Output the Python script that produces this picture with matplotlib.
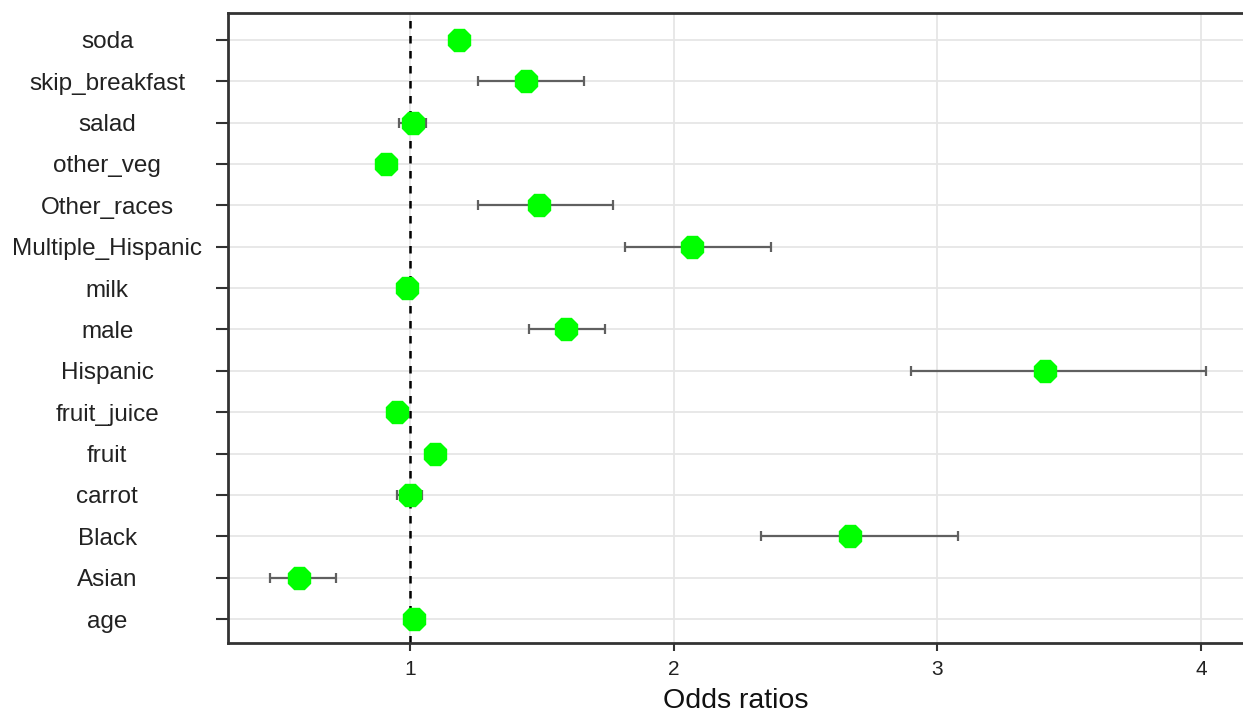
import matplotlib.pyplot as plt

plt.rcParams["font.family"] = ["Liberation Sans", "DejaVu Sans"]

# variables, listed bottom to top
variables = ["age", "Asian", "Black", "carrot", "fruit", "fruit_juice", "Hispanic",
             "male", "milk", "Multiple_Hispanic", "Other_races", "other_veg",
             "salad", "skip_breakfast", "soda"]
odds = [1.015, 0.58, 2.67, 1.0, 1.095, 0.95, 3.41,
        1.59, 0.99, 2.07, 1.49, 0.91, 1.01, 1.44, 1.186]
ci_low = [1.0, 0.47, 2.33, 0.95, 1.08, 0.94, 2.90,
          1.45, 0.98, 1.815, 1.26, 0.90, 0.96, 1.26, 1.17]
ci_high = [1.03, 0.72, 3.08, 1.045, 1.11, 0.96, 4.02,
           1.74, 1.0, 2.37, 1.77, 0.92, 1.06, 1.66, 1.20]

fig = plt.figure(figsize=(12.43, 7.15), dpi=100)
ax = fig.add_axes([0.1834, 0.1007, 0.8166, 0.8811])

ypos = list(range(len(variables)))
err_lo = [o - l for o, l in zip(odds, ci_low)]
err_hi = [h - o for o, h in zip(odds, ci_high)]

ax.errorbar(odds, ypos, xerr=[err_lo, err_hi], fmt="none", ecolor="#606060",
            elinewidth=1.6, capsize=3.5, capthick=1.6, zorder=2)
ax.plot(odds, ypos, linestyle="none", marker="8", markersize=17,
        color="#00ff00", zorder=3)
ax.axvline(1, color="black", linestyle=(0, (3, 3)), linewidth=1.8, zorder=1)

ax.set_xlim(0.31, 4.159)
ax.set_ylim(-0.58, len(variables) - 1 + 0.65)
ax.set_xticks([1, 2, 3, 4])
ax.set_yticks(ypos)
ax.set_yticklabels(variables, fontsize=17.5, color="#222222", ha="center")
ax.tick_params(axis="x", labelsize=15, colors="#222222", length=6, width=1.5,
               pad=6, color="#333333")
ax.tick_params(axis="y", length=9, width=1.5, color="#333333", pad=78)
ax.set_xlabel("Odds ratios", fontsize=20.5, color="#111111", labelpad=7)

ax.grid(True, color="#e6e6e6", linewidth=1.3)
ax.set_axisbelow(True)
for side in ["left", "bottom", "top"]:
    ax.spines[side].set_color("#333333")
    ax.spines[side].set_linewidth(2)
ax.spines["right"].set_visible(False)

fig.savefig("out.png", dpi=100)
